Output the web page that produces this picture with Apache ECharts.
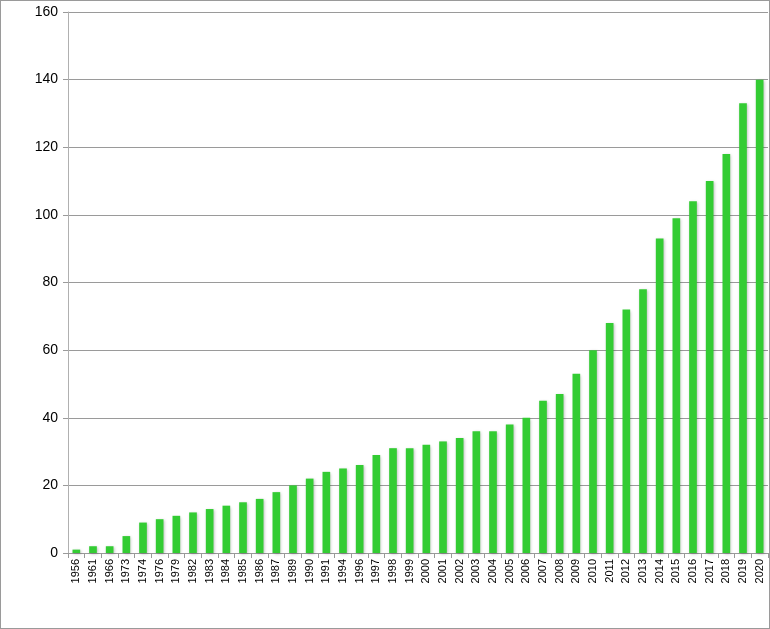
<!DOCTYPE html>
<html><head><meta charset="utf-8">
<script src="https://cdn.jsdelivr.net/npm/echarts@6/dist/echarts.min.js"></script>
<style>html,body{margin:0;padding:0;background:#fff}#c{width:768px;height:627px;border:1px solid #9a9a9a}</style>
</head><body><div id="c"></div>
<script>
const years = ['1956','1961','1966','1973','1974','1976','1979','1982','1983','1984','1985','1986','1987','1989','1990','1991','1994','1996','1997','1998','1999','2000','2001','2002','2003','2004','2005','2006','2007','2008','2009','2010','2011','2012','2013','2014','2015','2016','2017','2018','2019','2020'];
const values = [1,2,2,5,9,10,11,12,13,14,15,16,18,20,22,24,25,26,29,31,31,32,33,34,36,36,38,40,45,47,53,60,68,72,78,93,99,104,110,118,133,140];
const yTicks = {min:0, max:160, interval:20};
const chart = echarts.init(document.getElementById('c'));
chart.setOption({
  animation:false,
  grid:{left:67,right:1,top:11,bottom:75,containLabel:false},
  xAxis:{type:'category',data:years,
    axisLine:{lineStyle:{color:'#9a9a9a',width:1}},
    axisTick:{show:true,length:5,lineStyle:{color:'#9a9a9a'}},
    axisLabel:{rotate:90,interval:0,color:'#000',fontSize:11,fontFamily:'Liberation Sans, Arial, sans-serif',margin:6}},
  yAxis:{type:'value',min:yTicks.min,max:yTicks.max,interval:yTicks.interval,
    axisLine:{show:true,lineStyle:{color:'#b0b0b0'}},
    axisTick:{show:true,length:5,lineStyle:{color:'#9a9a9a'}},
    splitLine:{lineStyle:{color:'#9a9a9a',width:1}},
    axisLabel:{color:'#000',fontSize:14,fontFamily:'Liberation Sans, Arial, sans-serif',margin:10}},
  series:[{type:'bar',data:values,barWidth:'46%',
    itemStyle:{color:'#33cc33',shadowColor:'rgba(0,0,0,0.25)',shadowBlur:3,shadowOffsetX:1,shadowOffsetY:1}}]
});
</script></body></html>
